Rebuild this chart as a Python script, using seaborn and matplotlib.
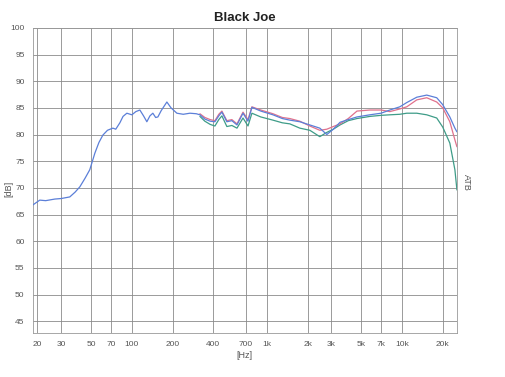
import seaborn as sns
import matplotlib.pyplot as plt
import matplotlib.ticker as mticker

# low end: only one trace measured
freq_low = [18.5, 20.8, 23, 26.9, 30, 34.7, 38, 41.2, 45, 48.8, 53.2, 57, 61, 66,
            72.3, 76, 81.5, 86, 91.8, 100, 107, 114.6, 122, 129.1, 136, 143, 150,
            155.8, 165, 181.6, 195, 215.4, 240, 269.2, 300]
db_low = [66.8, 67.7, 67.6, 67.9, 68.0, 68.3, 69.2, 70.2, 71.8, 73.4, 76.5, 78.5, 79.9, 80.8,
          81.2, 81.0, 82.2, 83.4, 84.0, 83.7, 84.3, 84.6, 83.5, 82.4, 83.5, 84.0, 83.2,
          83.3, 84.5, 86.1, 85.0, 84.0, 83.8, 84.0, 83.9]

freq = [318.9, 347, 380, 412, 440, 464, 505, 550, 600, 665, 724, 774, 900, 1108, 1300,
        1478, 1752, 2077, 2462, 2775, 3100, 3477, 4000, 4641, 5778, 7000, 8128, 9633,
        10846, 12858, 15244, 18073, 20023, 22594, 24634, 25508]
db_blue = [83.7, 82.9, 82.5, 82.4, 83.5, 84.2, 82.4, 82.6, 81.8, 84.0, 82.5, 85.1, 84.4, 83.7, 83.0,
           82.7, 82.4, 81.8, 81.2, 80.0, 81.0, 82.3, 82.8, 83.3, 83.7, 84.0, 84.6, 85.2,
           86.0, 87.0, 87.4, 86.9, 85.6, 83.3, 81.2, 80.5]
db_red = [83.9, 83.2, 82.8, 82.6, 83.8, 84.4, 82.6, 82.8, 82.0, 84.2, 82.8, 85.2, 84.6, 83.9, 83.2,
          83.0, 82.5, 81.6, 80.8, 81.0, 81.5, 82.0, 83.0, 84.4, 84.6, 84.6, 84.3, 84.8,
          85.2, 86.5, 86.9, 86.1, 85.0, 82.4, 79.0, 77.7]
db_green = [83.4, 82.5, 81.9, 81.6, 82.8, 83.5, 81.5, 81.7, 81.2, 83.1, 81.6, 84.0, 83.3, 82.7, 82.2,
            82.0, 81.2, 80.8, 79.6, 80.4, 81.0, 81.8, 82.6, 83.0, 83.4, 83.6, 83.7, 83.8,
            84.0, 84.0, 83.7, 83.1, 81.4, 78.4, 73.4, 69.6]

tick_freqs = [20, 30, 50, 70, 100, 200, 400, 700, 1000, 2000, 3000, 5000, 7000, 10000, 20000]
tick_labels = ["20", "30", "50", "70", "100", "200", "400", "700", "1k", "2k", "3k",
               "5k", "7k", "10k", "20k"]

sns.set_theme(style="white")
plt.rcParams['font.family'] = ['Liberation Sans', 'DejaVu Sans']

fig = plt.figure(figsize=(5.06, 3.77), dpi=100)
ax = fig.add_axes([0.065, 0.117, 0.838, 0.809])

blue_f = freq_low + freq
blue_d = db_low + db_blue
sns.lineplot(x=blue_f, y=blue_d, ax=ax, color="#5b7fd8", lw=0.9, zorder=4)
sns.lineplot(x=freq, y=db_red, ax=ax, color="#e0718c", lw=0.9, zorder=3)
sns.lineplot(x=freq, y=db_green, ax=ax, color="#3e9c88", lw=0.9, zorder=2)

ax.set_xscale("log")
ax.set_xlim(18.5, 25500)
ax.set_ylim(42.8, 100)
ax.set_yticks(range(45, 101, 5))
ax.xaxis.set_major_locator(mticker.FixedLocator(tick_freqs))
ax.xaxis.set_major_formatter(mticker.FixedFormatter(tick_labels))
ax.xaxis.set_minor_locator(mticker.NullLocator())
ax.grid(True, color="#8a8a8a", lw=0.6)
ax.tick_params(axis="both", labelsize=6, colors="#555555", length=0, pad=6)
for s in ax.spines.values():
    s.set_color("#999999")
    s.set_linewidth(0.6)

ax.set_title("Black Joe", fontsize=9.5, fontweight="bold", color="#222222", pad=5)
ax.set_xlabel("[Hz]", fontsize=6.5, color="#555555", labelpad=2)
ax.set_ylabel("")
fig.text(0.018, 0.50, "[dB]", rotation=90, fontsize=6.5, color="#555555",
         ha="center", va="center")
fig.text(0.922, 0.515, "ATB", rotation=-90, fontsize=6.5, color="#555555",
         ha="center", va="center")

fig.savefig("out.png", dpi=100)
